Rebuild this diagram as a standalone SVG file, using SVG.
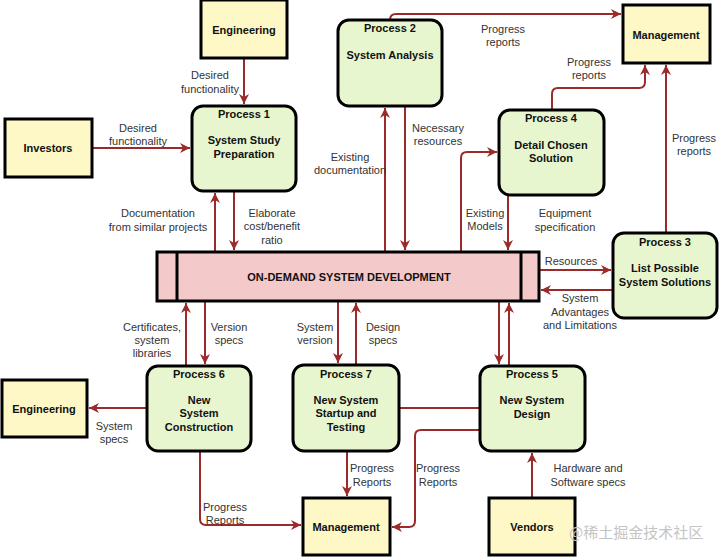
<svg xmlns="http://www.w3.org/2000/svg" width="720" height="557" viewBox="0 0 720 557">
<defs>
<marker id="ah" viewBox="0 0 10 10" refX="10" refY="5" markerWidth="10" markerHeight="10" markerUnits="userSpaceOnUse" orient="auto">
<path d="M0,0 L10,5 L0,10 L3,5 Z" fill="#9b2a2a"/>
</marker>
<style>
.ext{fill:#fdf8c6;stroke:#000;stroke-width:3}
.proc{fill:#e8f6cf;stroke:#000;stroke-width:3}
.store{fill:#f4c9c9;stroke:#000;stroke-width:3}
.nt{font-family:"Liberation Sans",Arial,sans-serif;font-size:11px;font-weight:bold;fill:#111;text-anchor:middle}
.lb{font-family:"Liberation Sans",Arial,sans-serif;font-size:11px;fill:#333;text-anchor:middle}
.c{fill:none;stroke:#9b2a2a;stroke-width:2}
.a{marker-end:url(#ah)}
.wm{font-family:"Noto Sans CJK SC","Liberation Sans",sans-serif;font-size:15px;fill:#c4c4c4}
</style>
</defs>
<rect width="720" height="557" fill="#fff"/>
<g id="connectors">
<path class="c a" d="M244,58 V104"/>
<path class="c a" d="M92,148 H190"/>
<path class="c a" d="M234,191 V250"/>
<path class="c a" d="M215,252 V193"/>
<path class="c a" d="M390,20 V20 Q390,14 396,14 H621"/>
<path class="c a" d="M385,252 V108"/>
<path class="c a" d="M405,106 V250"/>
<path class="c a" d="M552,110 V94 Q552,88 558,88 H639 Q645,88 645,82 V65"/>
<path class="c a" d="M666,233 V65"/>
<path class="c a" d="M461,252 V158 Q461,152 467,152 H497"/>
<path class="c a" d="M508,195 V250"/>
<path class="c a" d="M539,270 H611"/>
<path class="c a" d="M613,290 H541"/>
<path class="c a" d="M186,366 V303"/>
<path class="c a" d="M205,301 V364"/>
<path class="c a" d="M338,301 V363"/>
<path class="c a" d="M356,365 V303"/>
<path class="c a" d="M499,301 V364"/>
<path class="c a" d="M509,366 V303"/>
<path class="c a" d="M147,408 H89"/>
<path class="c a" d="M200,451 V519 Q200,525 206,525 H301"/>
<path class="c a" d="M347,451 V496"/>
<path class="c" d="M399,408 H480"/>
<path class="c a" d="M480,430 H421 Q415,430 415,436 V521 Q415,527 409,527 H392"/>
<path class="c a" d="M532,498 V453"/>
</g>
<g id="labels">
<text class="lb" x="210" y="79">Desired</text><text class="lb" x="210" y="93">functionality</text>
<text class="lb" x="138" y="132">Desired</text><text class="lb" x="138" y="145">functionality</text>
<text class="lb" x="272" y="217">Elaborate</text><text class="lb" x="272" y="230">cost/benefit</text><text class="lb" x="272" y="244">ratio</text>
<text class="lb" x="158" y="217">Documentation</text><text class="lb" x="158" y="231">from similar projects</text>
<text class="lb" x="503" y="33">Progress</text><text class="lb" x="503" y="46">reports</text>
<text class="lb" x="350" y="161">Existing</text><text class="lb" x="350" y="174">documentation</text>
<text class="lb" x="438" y="132">Necessary</text><text class="lb" x="438" y="145">resources</text>
<text class="lb" x="589" y="66">Progress</text><text class="lb" x="589" y="79">reports</text>
<text class="lb" x="694" y="142">Progress</text><text class="lb" x="694" y="155">reports</text>
<text class="lb" x="485" y="217">Existing</text><text class="lb" x="485" y="230">Models</text>
<text class="lb" x="565" y="217">Equipment</text><text class="lb" x="565" y="231">specification</text>
<text class="lb" x="571" y="265">Resources</text>
<text class="lb" x="580" y="302">System</text><text class="lb" x="580" y="316">Advantages</text><text class="lb" x="580" y="329">and Limitations</text>
<text class="lb" x="152" y="331">Certificates,</text><text class="lb" x="152" y="344">system</text><text class="lb" x="152" y="357">libraries</text>
<text class="lb" x="229" y="331">Version</text><text class="lb" x="229" y="344">specs</text>
<text class="lb" x="315" y="331">System</text><text class="lb" x="315" y="344">version</text>
<text class="lb" x="383" y="331">Design</text><text class="lb" x="383" y="344">specs</text>
<text class="lb" x="114" y="430">System</text><text class="lb" x="114" y="443">specs</text>
<text class="lb" x="225" y="511">Progress</text><text class="lb" x="225" y="524">Reports</text>
<text class="lb" x="372" y="472">Progress</text><text class="lb" x="372" y="486">Reports</text>
<text class="lb" x="438" y="472">Progress</text><text class="lb" x="438" y="486">Reports</text>
<text class="lb" x="588" y="472">Hardware and</text><text class="lb" x="588" y="486">Software specs</text>
</g>
<g id="engineering-top"><rect class="ext" x="201" y="0" width="86" height="58"/><text class="nt" x="244" y="34">Engineering</text></g>
<g id="investors"><rect class="ext" x="5" y="119" width="87" height="58"/><text class="nt" x="48" y="152">Investors</text></g>
<g id="management-top"><rect class="ext" x="623" y="5" width="87" height="58"/><text class="nt" x="666" y="39">Management</text></g>
<g id="engineering-left"><rect class="ext" x="2" y="380" width="85" height="57"/><text class="nt" x="44" y="413">Engineering</text></g>
<g id="management-bottom"><rect class="ext" x="303" y="498" width="87" height="57"/><text class="nt" x="346" y="531">Management</text></g>
<g id="vendors"><rect class="ext" x="489" y="498" width="86" height="57"/><text class="nt" x="532" y="531">Vendors</text></g>
<g id="process1"><rect class="proc" x="192" y="106" width="104" height="85" rx="11"/><text class="nt" x="244" y="118">Process 1</text><text class="nt" x="244" y="144">System Study</text><text class="nt" x="244" y="158">Preparation</text></g>
<g id="process2"><rect class="proc" x="338" y="20" width="104" height="86" rx="11"/><text class="nt" x="390" y="32">Process 2</text><text class="nt" x="390" y="59">System Analysis</text></g>
<g id="process4"><rect class="proc" x="499" y="110" width="105" height="85" rx="11"/><text class="nt" x="551" y="122">Process 4</text><text class="nt" x="551" y="149">Detail Chosen</text><text class="nt" x="551" y="162">Solution</text></g>
<g id="process3"><rect class="proc" x="613" y="233" width="104" height="85" rx="11"/><text class="nt" x="665" y="246">Process 3</text><text class="nt" x="665" y="272">List Possible</text><text class="nt" x="665" y="286">System Solutions</text></g>
<g id="process6"><rect class="proc" x="147" y="366" width="104" height="85" rx="11"/><text class="nt" x="199" y="378">Process 6</text><text class="nt" x="199" y="404">New</text><text class="nt" x="199" y="417">System</text><text class="nt" x="199" y="431">Construction</text></g>
<g id="process7"><rect class="proc" x="293" y="365" width="106" height="86" rx="11"/><text class="nt" x="346" y="378">Process 7</text><text class="nt" x="346" y="404">New System</text><text class="nt" x="346" y="417">Startup and</text><text class="nt" x="346" y="431">Testing</text></g>
<g id="process5"><rect class="proc" x="480" y="366" width="105" height="85" rx="11"/><text class="nt" x="532" y="378">Process 5</text><text class="nt" x="532" y="404">New System</text><text class="nt" x="532" y="418">Design</text></g>
<g id="datastore"><rect class="store" x="157" y="252" width="382" height="49"/><line x1="177" y1="252" x2="177" y2="301" stroke="#000" stroke-width="3"/><line x1="521" y1="252" x2="521" y2="301" stroke="#000" stroke-width="3"/><text class="nt" x="349" y="281">ON-DEMAND SYSTEM DEVELOPMENT</text></g>
<text class="wm" x="569" y="538">@稀土掘金技术社区</text>
</svg>
